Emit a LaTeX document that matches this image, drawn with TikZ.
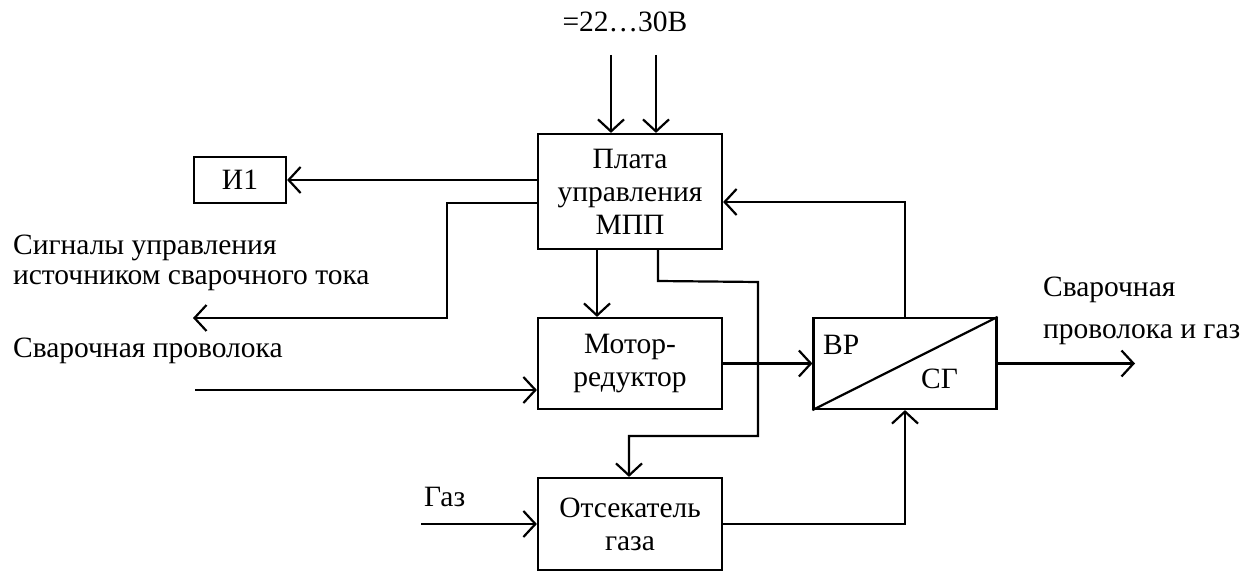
\documentclass[tikz,border=0pt]{standalone}
\usepackage{fontspec}
\setmainfont{Liberation Serif}
\usetikzlibrary{arrows.meta}
\begin{document}
\begin{tikzpicture}[x=1pt,y=-1pt,line width=2.2pt,
  blk/.style={draw, line width=2.2pt, inner sep=0pt, align=center, font=\fontsize{29.5}{33}\selectfont},
  arr/.style={-{Straight Barb[length=12pt,width=26pt]}},
  lbl/.style={font=\fontsize{29.5}{31}\selectfont, align=left, inner sep=0pt}]
\useasboundingbox (0,0) rectangle (1254,572);
% blocks
\node[blk, minimum width=184pt, minimum height=115pt] (pl) at (630,191.5) {Плата\\управления\\МПП};
\node[blk, minimum width=92pt, minimum height=46pt] (i1) at (240,180) {И1};
\node[blk, minimum width=184pt, minimum height=91pt] (mr) at (630,363.5) {Мотор-\\редуктор};
\node[blk, minimum width=184pt, minimum height=92pt] (gs) at (630,524) {Отсекатель\\газа};
\node[blk, minimum width=183pt, minimum height=91pt] (vs) at (905,363.5) {};
\draw (vs.south west) -- (vs.north east);
\node[lbl, anchor=base west] (vr) at (822,355) {ВР};
\node[lbl, anchor=base west] (sg) at (920,388) {СГ};
% labels
\node[lbl, anchor=base] (pw) at (625,32) {=22…30В};
\node[lbl, anchor=base west] (sigl) at (12,255) {Сигналы управления};
\node[lbl, anchor=base west] (sigl2) at (12,285) {источником сварочного тока};
\node[lbl, anchor=base west] (wl) at (12,357) {Сварочная проволока};
\node[lbl, anchor=base west] (gl) at (423,506) {Газ};
\node[lbl, anchor=base west] (ol) at (1042,297) {Сварочная};
\node[lbl, anchor=base west] (ol2) at (1042,338) {проволока и газ};
% connectors
\coordinate (s1) at (611,55);
\coordinate (s2) at (656,55);
\draw[arr] (s1) -- (s1 |- pl.north);
\draw[arr] (s2) -- (s2 |- pl.north);
\draw[arr] (i1.east -| pl.west) -- (i1.east);
\coordinate (sig) at (193,318);
\draw[arr] (pl.west |- 0,203) -- (447,203) -- (447,318) -- (sig);
\draw[arr] (vs.north) -- (905,202) -- (pl.east |- 0,202);
\draw[arr] (pl.south -| 597,0) -- (mr.north -| 597,0);
\coordinate (w) at (195,390);
\draw[arr] (w) -- (w -| mr.west);
\draw[arr] (mr.east) -- (vs.west);
\coordinate (out) at (1135,363.5);
\draw[arr] (vs.east) -- (out);
\coordinate (g) at (421,524);
\draw[arr] (g) -- (gs.west);
\draw[arr] (gs.east) -- (905,524) -- (vs.south);
\draw[arr] (pl.south -| 658,0) -- (658,281) -- (758,282) -- (758,436) -- (629,436) -- (gs.north -| 629,0);
\end{tikzpicture}
\end{document}
